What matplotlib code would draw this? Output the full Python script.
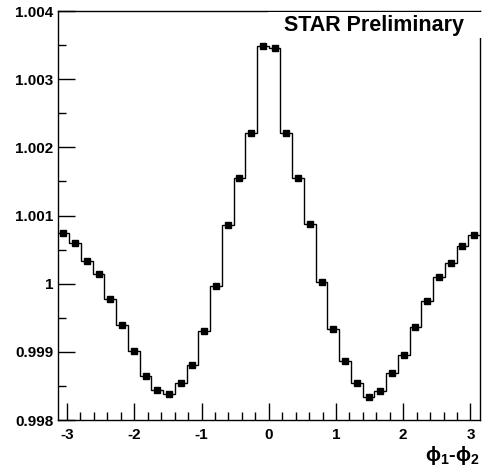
import numpy as np
import matplotlib
matplotlib.use("Agg")
import matplotlib.pyplot as plt
from matplotlib.patches import Rectangle
from matplotlib.ticker import MultipleLocator

# 36 bins of phi1 - phi2 over [-pi, pi]
n_bins = 36
values = [1.000741, 1.000594, 1.000339, 1.000139, 0.999773, 0.999396,
          0.999015, 0.998648, 0.998447, 0.998384, 0.998541, 0.998814,
          0.999303, 0.999968, 1.000858, 1.001547, 1.002216, 1.003491,
          1.003462, 1.002207, 1.001547, 1.000877, 1.000031, 0.999337,
          0.998868, 0.998545, 0.998345, 0.998433, 0.998688, 0.998956,
          0.999371, 0.999748, 1.000095, 1.000301, 1.000554, 1.000711]
y_ticks = [0.998, 0.999, 1.0, 1.001, 1.002, 1.003, 1.004]
y_tick_labels = ["0.998", "0.999", "1", "1.001", "1.002", "1.003", "1.004"]
x_ticks = [-3, -2, -1, 0, 1, 2, 3]

edges = np.linspace(-np.pi, np.pi, n_bins + 1)
centers = 0.5 * (edges[:-1] + edges[1:])

plt.rcParams['font.family'] = ['Liberation Sans', 'DejaVu Sans']
plt.rcParams['font.weight'] = 'bold'

W, H = 485, 467
fig = plt.figure(figsize=(W / 100, H / 100), dpi=100)
ax = fig.add_axes([0.1186, 0.1006, 0.8711, 0.8758])

ax.stairs(values, edges, color='black', linewidth=1.0, baseline=None)
ax.plot(centers, values, 's', color='black', markersize=4.3)

ax.set_xlim(-np.pi, np.pi)
ax.set_ylim(0.998, 1.004)

ax.set_yticks(y_ticks)
ax.set_yticklabels(y_tick_labels)
ax.yaxis.set_minor_locator(MultipleLocator(0.0005))
ax.set_xticks(x_ticks)
ax.set_xticklabels([str(t) for t in x_ticks])
ax.xaxis.set_minor_locator(MultipleLocator(0.2))

ax.tick_params(which='both', direction='in', top=False, right=False,
               labelsize=11, width=1)
ax.tick_params(which='major', length=12)
ax.tick_params(which='minor', length=6)
ax.tick_params(axis='x', pad=6)
ax.tick_params(axis='y', pad=3)
for lbl in ax.get_xticklabels() + ax.get_yticklabels():
    lbl.set_fontweight('bold')
for s in ax.spines.values():
    s.set_linewidth(1)

# title box covering the top-right corner (pixel positions -> figure coords)
fig.patches.append(Rectangle((268 / W, 1 - 38 / H), 214 / W, 26 / H,
                             transform=fig.transFigure, facecolor='white',
                             edgecolor='none', zorder=5))
fig.text(374 / W, 1 - 31 / H, "STAR Preliminary", ha='center',
         va='baseline', fontsize=15.5, fontweight='bold', zorder=6)

# axis label at the bottom right
fig.text(0.9897, 0.0, r'$\mathregular{\phi_1}$-$\mathregular{\phi_2}$',
         ha='right', va='bottom', fontsize=14.5)

fig.savefig("out.png", dpi=100)
